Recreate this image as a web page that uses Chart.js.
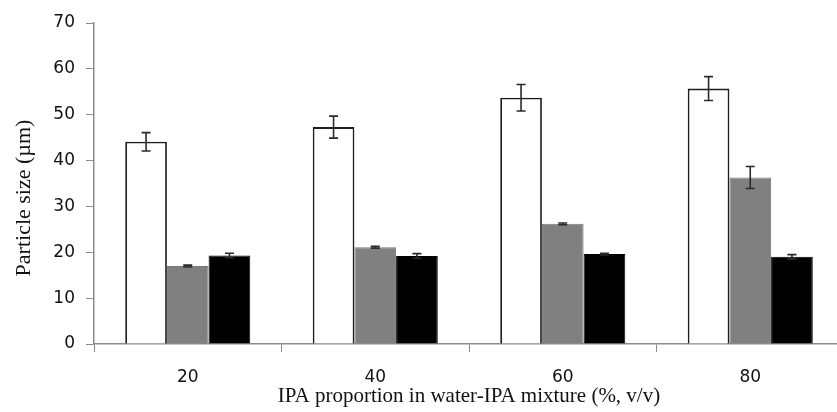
<!DOCTYPE html>
<html>
<head>
<meta charset="utf-8">
<script src="https://cdn.jsdelivr.net/npm/chart.js@4.4.1/dist/chart.umd.min.js"></script>
<style>
html,body{margin:0;padding:0;overflow:hidden;background:#fff;}
#wrap{width:844px;height:412px;}
</style>
</head>
<body>
<div id="wrap"><canvas id="c" width="844" height="412"></canvas></div>
<script>
const categories = ["20", "40", "60", "80"];
const seriesWhite = [44.1, 47.3, 53.7, 55.7];
const errWhite = [2.0, 2.4, 2.9, 2.6];
const seriesGray = [17.0, 21.1, 26.2, 36.3];
const errGray = [0.2, 0.2, 0.2, 2.4];
const seriesBlack = [19.3, 19.2, 19.6, 19.0];
const errBlack = [0.5, 0.5, 0.2, 0.5];
const yTicks = [0, 10, 20, 30, 40, 50, 60, 70];
const yTitle = 'Particle size (µm)';
const xTitle = 'IPA proportion in water-IPA mixture (%, v/v)';

const errorBars = {
  id: 'errorBars',
  afterDatasetsDraw(chart) {
    const ctx = chart.ctx;
    const y = chart.scales.y;
    chart.data.datasets.forEach((ds, i) => {
      const meta = chart.getDatasetMeta(i);
      meta.data.forEach((bar, j) => {
        const v = ds.data[j], e = ds.errors[j];
        const yt = y.getPixelForValue(v + e), yb = y.getPixelForValue(v - e);
        const x = bar.x, cap = 4.5;
        ctx.save();
        ctx.strokeStyle = '#2a2a2a';
        ctx.lineWidth = 1.6;
        ctx.beginPath();
        ctx.moveTo(x, yt); ctx.lineTo(x, yb);
        ctx.moveTo(x - cap, yt); ctx.lineTo(x + cap, yt);
        ctx.moveTo(x - cap, yb); ctx.lineTo(x + cap, yb);
        ctx.stroke();
        ctx.restore();
      });
    });
  }
};

const yTitlePlugin = {
  id: 'yTitlePlugin',
  afterDraw(chart) {
    const ctx = chart.ctx;
    ctx.save();
    ctx.translate(24, 198);
    ctx.rotate(-Math.PI / 2);
    ctx.font = '22px "Liberation Serif"';
    ctx.fillStyle = '#111';
    ctx.textAlign = 'center';
    ctx.textBaseline = 'middle';
    ctx.fillText(yTitle, 0, 0);
    ctx.restore();
  }
};

new Chart(document.getElementById('c'), {
  type: 'bar',
  data: {
    labels: categories,
    datasets: [
      { data: seriesWhite, errors: errWhite, backgroundColor: '#ffffff', borderColor: '#1e1e1e', borderWidth: 1.8,
        categoryPercentage: 0.667, barPercentage: 1.0 },
      { data: seriesGray, errors: errGray, backgroundColor: '#808080', borderColor: '#7a7a7a', borderWidth: 1,
        categoryPercentage: 0.667, barPercentage: 1.0 },
      { data: seriesBlack, errors: errBlack, backgroundColor: '#000000', borderColor: '#000000', borderWidth: 1,
        categoryPercentage: 0.667, barPercentage: 1.0 }
    ]
  },
  options: {
    responsive: false,
    animation: false,
    layout: { padding: { top: 23, right: 0, left: 0, bottom: 0 } },
    plugins: { legend: { display: false }, tooltip: { enabled: false } },
    scales: {
      x: {
        grid: { display: true, drawOnChartArea: false, drawTicks: true, tickLength: 8, color: '#8c8c8c', offset: true },
        border: { display: true, color: '#8c8c8c', width: 1.5 },
        ticks: { color: '#111', font: { family: 'DejaVu Sans', size: 17 }, padding: 15 },
        title: { display: true, text: xTitle, color: '#111',
          font: { family: 'Liberation Serif', size: 21 }, padding: { top: 3, bottom: 3 } },
        afterFit(s) { s.height = 68; }
      },
      y: {
        min: 0, max: 70,
        afterBuildTicks(s) { s.ticks = yTicks.map(v => ({ value: v })); },
        grid: { display: true, drawOnChartArea: false, drawTicks: true, tickLength: 8, color: '#8c8c8c' },
        border: { display: true, color: '#8c8c8c', width: 1.5 },
        ticks: { color: '#111', font: { family: 'DejaVu Sans', size: 17 }, padding: 11 },
        title: { display: false },
        afterFit(s) { s.width = 94; }
      }
    }
  },
  plugins: [errorBars, yTitlePlugin]
});
</script>
</body>
</html>
